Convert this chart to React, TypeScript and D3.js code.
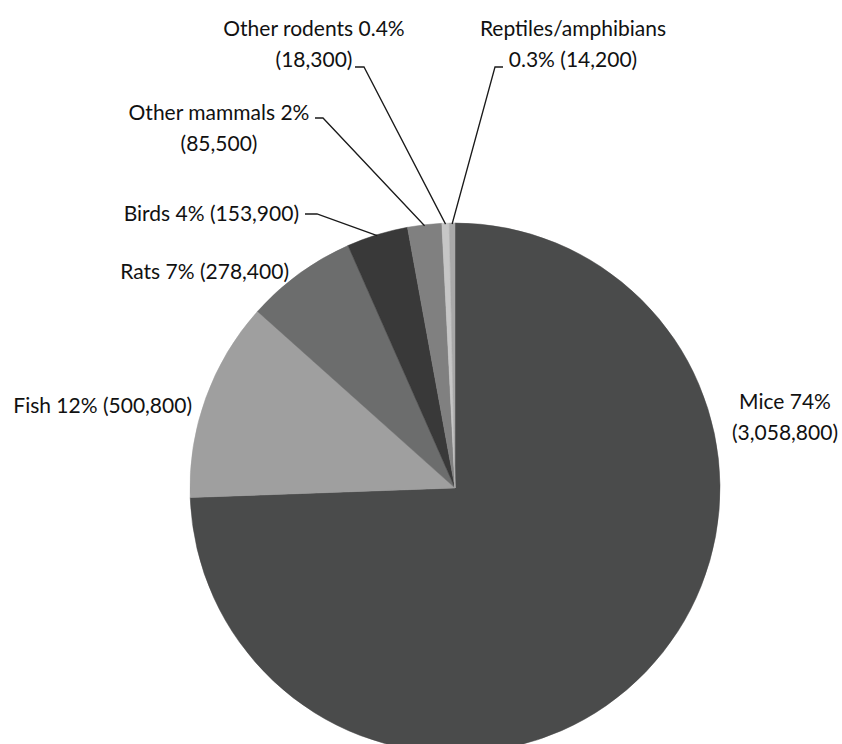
import React from "react";
import * as d3 from "d3";

// Animals used, by group (clockwise from 12 o'clock)
const categories = [
  "Mice",
  "Fish",
  "Rats",
  "Birds",
  "Other mammals",
  "Other rodents",
  "Reptiles/amphibians",
];
const counts = [3058800, 500800, 278400, 153900, 85500, 18300, 14200];
const percentLabels = ["74%", "12%", "7%", "4%", "2%", "0.4%", "0.3%"];
const countLabels = ["3,058,800", "500,800", "278,400", "153,900", "85,500", "18,300", "14,200"];

const colors = ["#4a4b4b", "#9f9f9f", "#6c6d6d", "#393939", "#808080", "#c6c6c6", "#a9a9a9"];

// Label text lines, anchor point and optional leader line start
type LabelLayout = {
  lines: string[];
  x: number;
  y: number;
  anchor: "start" | "middle" | "end";
  leader?: { x: number; y: number; dx: number };
};

const W = 842;
const H = 744;
const cx = 455;
const cy = 488;
const R = 265;
const LINE_H = 31;

function buildLayouts(): LabelLayout[] {
  const t = (i: number) => `${categories[i]} ${percentLabels[i]}`;
  const c = (i: number) => `(${countLabels[i]})`;
  return [
    { lines: [t(0), c(0)], x: 785, y: 409, anchor: "middle" },
    { lines: [`${t(1)} ${c(1)}`], x: 192, y: 413, anchor: "end" },
    { lines: [`${t(2)} ${c(2)}`], x: 289, y: 279, anchor: "end" },
    { lines: [`${t(3)} ${c(3)}`], x: 299, y: 221, anchor: "end", leader: { x: 305, y: 214, dx: 12 } },
    { lines: [t(4), c(4)], x: 219, y: 120, anchor: "middle", leader: { x: 315, y: 118, dx: 8 } },
    { lines: [t(5), c(5)], x: 314, y: 36, anchor: "middle", leader: { x: 355, y: 67, dx: 9 } },
    { lines: [categories[6], `${percentLabels[6]} ${c(6)}`], x: 573, y: 36, anchor: "middle", leader: { x: 503, y: 67, dx: -8 } },
  ];
}

export default function App() {
  const pie = d3
    .pie<number>()
    .sort(null)
    .value((d) => d)
    .startAngle(0)
    .endAngle(2 * Math.PI);
  const arcs = pie(counts);
  const arc = d3.arc<d3.PieArcDatum<number>>().innerRadius(0).outerRadius(R);
  const layouts = buildLayouts();

  return (
    <svg
      width={W}
      height={H}
      style={{ position: "absolute", left: 0, top: 0, background: "#fff" }}
      fontFamily="Lato, 'Open Sans', sans-serif"
      fontSize={21}
    >
      <g transform={`translate(${cx},${cy})`}>
        {arcs.map((a, i) => (
          <path key={categories[i]} d={arc(a) || ""} fill={colors[i]} stroke={colors[i]} strokeWidth={0.5} />
        ))}
      </g>
      {layouts.map((l, i) => {
        const a = arcs[i];
        const mid = (a.startAngle + a.endAngle) / 2;
        const ex = cx + R * Math.sin(mid);
        const ey = cy - R * Math.cos(mid);
        return (
          <g key={categories[i]}>
            {l.leader && (
              <polyline
                points={`${l.leader.x},${l.leader.y} ${l.leader.x + l.leader.dx},${l.leader.y} ${ex},${ey + 1}`}
                fill="none"
                stroke="#1a1a1a"
                strokeWidth={1.3}
              />
            )}
            <text textAnchor={l.anchor} fill="#111">
              {l.lines.map((s, j) => (
                <tspan key={j} x={l.x} y={l.y + j * LINE_H}>
                  {s}
                </tspan>
              ))}
            </text>
          </g>
        );
      })}
    </svg>
  );
}
